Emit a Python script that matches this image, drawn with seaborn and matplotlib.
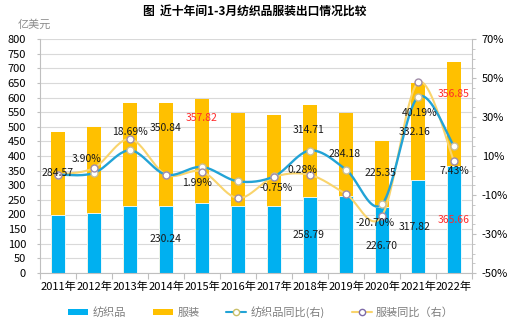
import numpy as np
import pandas as pd
import matplotlib
matplotlib.use("Agg")
import matplotlib.pyplot as plt
import seaborn as sns
from matplotlib.ticker import MultipleLocator, FixedLocator, FuncFormatter, NullFormatter
from matplotlib.lines import Line2D
from matplotlib.patches import Patch

# ---- data -------------------------------------------------------------
years = ["2011年", "2012年", "2013年", "2014年", "2015年", "2016年",
         "2017年", "2018年", "2019年", "2020年", "2021年", "2022年"]
textile = [199.0, 204.0, 229.0, 230.24, 238.0, 230.0,
           230.0, 258.79, 263.0, 226.70, 317.82, 365.66]          # 亿美元
garment = [284.57, 296.0, 351.0, 350.84, 357.82, 318.0,
           310.0, 314.71, 284.18, 225.35, 332.16, 356.85]         # 亿美元
textile_yoy = [0.4, 1.3, 12.9, 0.4, 4.4, -3.0,
               -0.5, 12.8, 3.0, -14.7, 40.19, 15.0]               # %
garment_yoy = [0.4, 3.90, 18.69, 0.4, 1.99, -11.6,
               -0.75, 0.28, -9.5, -20.70, 47.7, 7.43]             # %

# ---- style ------------------------------------------------------------
sns.set_theme(style="white")
plt.rcParams["font.family"] = ["Noto Sans CJK SC", "DejaVu Sans"]
plt.rcParams["axes.unicode_minus"] = False

C_TEX = "#00B0F0"
C_GAR = "#FFC000"
C_TEX_LINE = "#22A3D6"
C_GAR_LINE = "#F9D46C"
C_AXIS = "#BFBFBF"

df = pd.DataFrame({"year": years, "textile": textile, "garment": garment})
df["total"] = df["textile"] + df["garment"]

fig = plt.figure(figsize=(5.07, 3.23), dpi=100)
ax = fig.add_axes([40 / 507, 50 / 323, 432 / 507, 234 / 323])

# stacked bars: garment sits on top of textile
sns.barplot(data=df, x="year", y="total", color=C_GAR, saturation=1,
            width=0.39, linewidth=0, errorbar=None, ax=ax)
sns.barplot(data=df, x="year", y="textile", color=C_TEX, saturation=1,
            width=0.39, edgecolor="white", linewidth=0.6, errorbar=None, ax=ax)

ax.set_xlim(-0.5, len(years) - 0.5)
ax.set_ylim(0, 800)
ax.set_xlabel("")
ax.set_ylabel("")
ax.yaxis.set_major_locator(MultipleLocator(50))
ax.set_axisbelow(True)
ax.yaxis.grid(True, color="#D9D9D9", linewidth=0.8)
ax.xaxis.grid(False)
for s in ("top", "right"):
    ax.spines[s].set_visible(False)
for s in ("left", "bottom"):
    ax.spines[s].set_color(C_AXIS)
    ax.spines[s].set_linewidth(0.8)

# category boundaries carry the tick marks, centres carry the labels
n = len(years)
ax.xaxis.set_major_locator(FixedLocator(np.arange(n + 1) - 0.5))
ax.xaxis.set_major_formatter(NullFormatter())
ax.xaxis.set_minor_locator(FixedLocator(np.arange(n)))
ax.xaxis.set_minor_formatter(FuncFormatter(lambda v, p: years[int(round(v))]))
ax.tick_params(axis="x", which="major", length=4, width=0.8, color=C_AXIS,
               direction="out", bottom=True)
ax.tick_params(axis="x", which="minor", length=0, pad=6, labelsize=8,
               labelcolor="#000000", bottom=True)
ax.tick_params(axis="y", length=2, width=0.8, color=C_AXIS, direction="out",
               left=True, pad=8, labelsize=8, labelcolor="#000000")

# ---- year-on-year lines on the right axis -----------------------------
ax2 = ax.twinx()
ax2.set_ylim(-50, 70)
ax2.yaxis.set_major_locator(MultipleLocator(20))
ax2.yaxis.set_minor_locator(MultipleLocator(5))
ax2.yaxis.set_major_formatter(FuncFormatter(lambda v, p: f"{v:.0f}%"))
ax2.set_yticks(np.arange(-50, 71, 20))
for s in ("top", "left", "bottom"):
    ax2.spines[s].set_visible(False)
ax2.spines["right"].set_color(C_AXIS)
ax2.spines["right"].set_linewidth(0.8)
ax2.tick_params(axis="y", which="major", length=3, width=0.8, color=C_AXIS,
                direction="out", right=True, pad=4, labelsize=8,
                labelcolor="#000000")
ax2.tick_params(axis="y", which="minor", length=2, width=0.6, color=C_AXIS,
                direction="out", right=True)
ax2.grid(False)


def smooth(xs, ys, steps=24):
    """Catmull-Rom curve through the points (same look as a smoothed line)."""
    xs = np.asarray(xs, float)
    ys = np.asarray(ys, float)
    px = np.concatenate([[xs[0]], xs, [xs[-1]]])
    py = np.concatenate([[ys[0]], ys, [ys[-1]]])
    out_x, out_y = [], []
    t = np.linspace(0, 1, steps, endpoint=False)
    for i in range(1, len(px) - 2):
        for p, out in ((px, out_x), (py, out_y)):
            p0, p1, p2, p3 = p[i - 1], p[i], p[i + 1], p[i + 2]
            out.extend(0.5 * (2 * p1 + (-p0 + p2) * t
                              + (2 * p0 - 5 * p1 + 4 * p2 - p3) * t ** 2
                              + (-p0 + 3 * p1 - 3 * p2 + p3) * t ** 3))
    out_x.append(xs[-1])
    out_y.append(ys[-1])
    return np.array(out_x), np.array(out_y)


xpos = np.arange(n)
gx, gy = smooth(xpos, garment_yoy)
tx, ty = smooth(xpos, textile_yoy)
ax2.plot(gx, gy, color=C_GAR_LINE, lw=1.5, zorder=2, solid_capstyle="round")
ax2.plot(tx, ty, color=C_TEX_LINE, lw=1.7, zorder=3, solid_capstyle="round")
ax2.plot(xpos, textile_yoy, "o", ms=5, mfc="white", mec="#C9BE9A", mew=1.0, zorder=5)
ax2.plot(xpos, garment_yoy, "o", ms=5, mfc="white", mec="#A08CA8", mew=1.0, zorder=5)

# ---- value labels -----------------------------------------------------
RED = "#FF2A2A"
BLK = "#1A1A1A"
series = {"tex": textile, "gar": garment, "tyoy": textile_yoy, "gyoy": garment_yoy}
# (series, index, x position, height on left axis, colour)
label_spec = [
    ("gar", 0, 0.0, 342, BLK),
    ("gyoy", 1, 0.8, 390, BLK),
    ("gyoy", 2, 2.0, 482, BLK),
    ("gar", 3, 3.0, 496, BLK),
    ("tex", 3, 3.0, 116, BLK),
    ("gar", 4, 4.0, 530, RED),
    ("gyoy", 4, 3.87, 308, BLK),
    ("gyoy", 6, 6.05, 291, BLK),
    ("gyoy", 7, 6.8, 352, BLK),
    ("gar", 7, 6.95, 489, BLK),
    ("tex", 7, 6.95, 130, BLK),
    ("gar", 8, 7.96, 407, BLK),
    ("gar", 9, 8.95, 342, BLK),
    ("gyoy", 9, 8.8, 171, BLK),
    ("tex", 9, 9.0, 92, BLK),
    ("gar", 10, 9.9, 482, BLK),
    ("tyoy", 10, 10.05, 547, BLK),
    ("tex", 10, 9.9, 157, BLK),
    ("gar", 11, 11.0, 612, RED),
    ("gyoy", 11, 11.0, 349, BLK),
    ("tex", 11, 11.0, 181, RED),
]
for key, i, lx, ly, col in label_spec:
    v = series[key][i]
    txt = f"{v:.2f}%" if key.endswith("yoy") else f"{v:.2f}"
    ax2.text(lx, ly, txt, transform=ax.transData, ha="center", va="center",
             fontsize=7.5, color=col, zorder=10)

# ---- titles and legend ------------------------------------------------
fig.text(0.503, 1 - 11 / 323, "图  近十年间1-3月纺织品服装出口情况比较",
         ha="center", va="center", fontsize=8.5, fontweight="bold", color="#000000")
fig.text(18 / 507, 1 - 25 / 323, "亿美元", ha="left", va="center",
         fontsize=8, color="#8C8C8C")

handles = [
    Patch(facecolor=C_TEX, edgecolor="none"),
    Patch(facecolor=C_GAR, edgecolor="none"),
    Line2D([], [], color=C_TEX_LINE, lw=1.5, marker="o", ms=4.5,
           mfc="white", mec="#C9C06A", mew=1.0),
    Line2D([], [], color=C_GAR_LINE, lw=1.5, marker="o", ms=4.5,
           mfc="white", mec="#7E6BA8", mew=1.0),
]
labels = ["纺织品", "服装", "纺织品同比(右)", "服装同比（右）"]
fig.legend(handles, labels, loc="center", bbox_to_anchor=(0.515, 1 - 312 / 323),
           ncol=4, frameon=False, fontsize=8, labelcolor="#7F7F7F",
           handlelength=1.8, handleheight=0.5, handletextpad=0.4,
           columnspacing=2.4, borderaxespad=0)

fig.savefig("out.png", dpi=100)
